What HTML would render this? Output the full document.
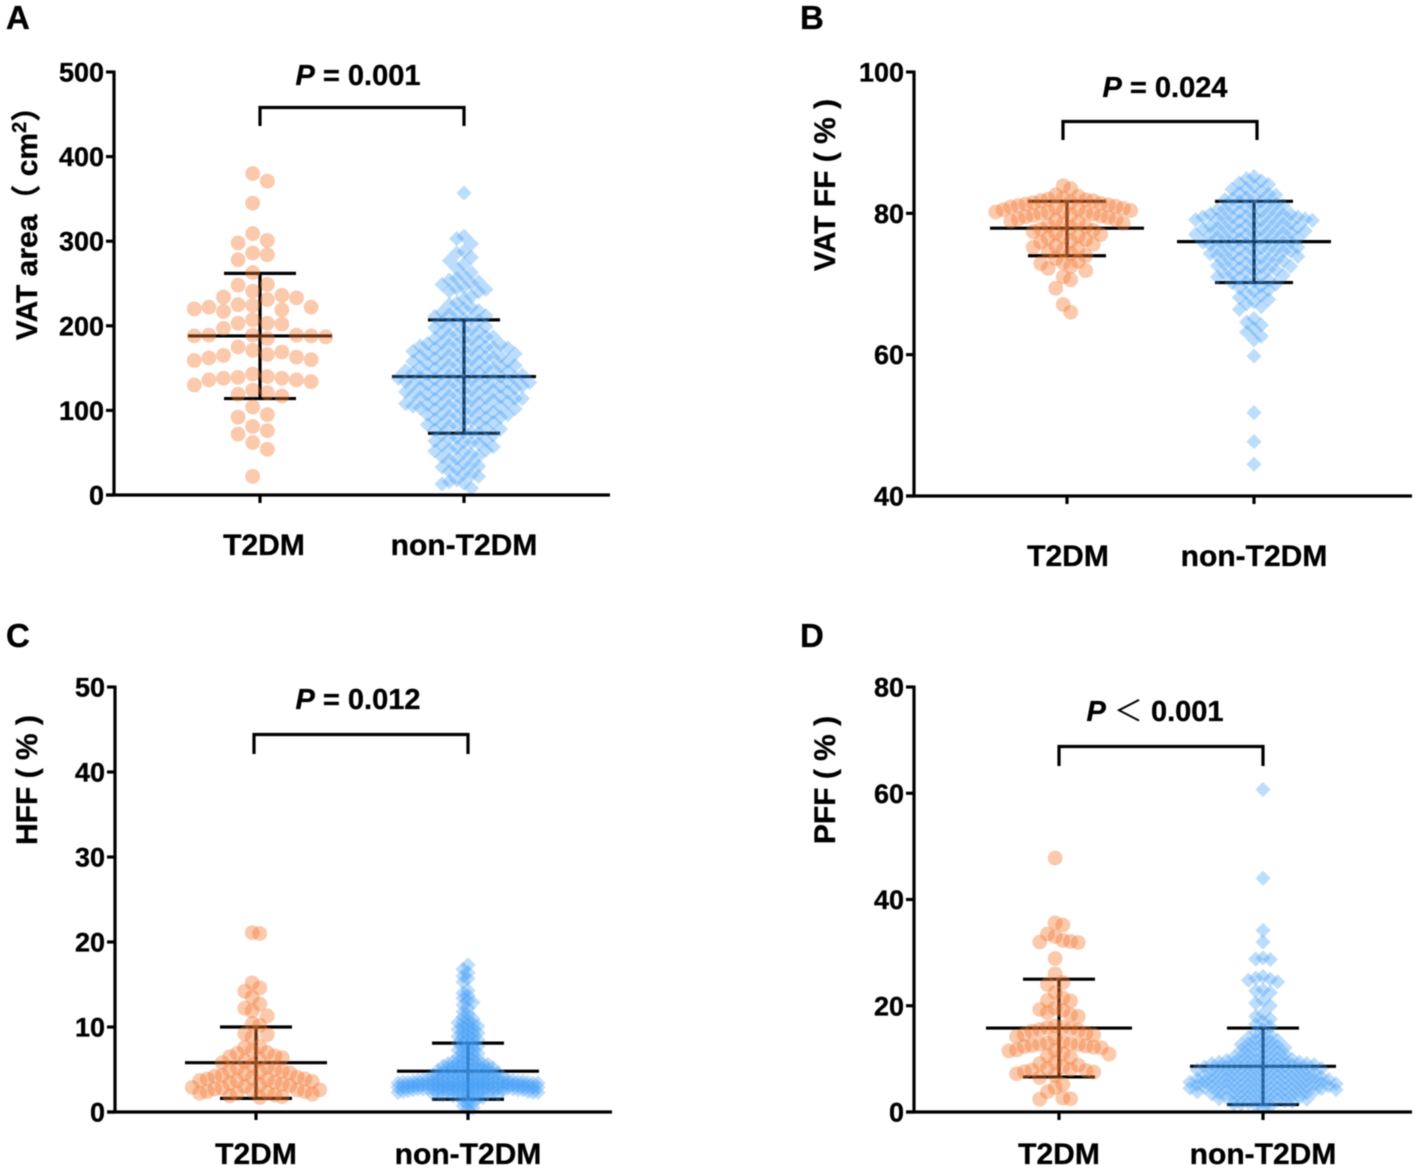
<!DOCTYPE html>
<html lang="en">
<head>
<meta charset="utf-8">
<title>VAT, HFF and PFF by T2DM status</title>
<style>
html,body{margin:0;padding:0;background:#fff;}
svg{display:block;filter:blur(0.4px);}
text{font-family:"Liberation Sans","Noto Sans CJK SC",sans-serif;font-weight:700;fill:#000;stroke:#000;stroke-width:0.35px;}
.tick{font-size:27px;text-anchor:end;}
.cat{font-size:30px;text-anchor:middle;}
.ttl{font-size:30px;text-anchor:middle;}
.p{font-size:29px;text-anchor:middle;}
.let{font-size:33px;}
.br{fill:none;stroke:#000;stroke-width:3.2;}
</style>
</head>
<body>
<svg id="fig" xmlns="http://www.w3.org/2000/svg" width="1417" height="1171" viewBox="0 0 1417 1171">
  <rect width="1417" height="1171" fill="#fff"/>
  <text class="let" x="6" y="29">A</text>
  <text class="let" x="800" y="29">B</text>
  <text class="let" x="6" y="647">C</text>
  <text class="let" x="800" y="647">D</text>

  <text class="ttl" transform="translate(37,216) rotate(-90)">VAT area（ cm<tspan font-size="20" dy="-11">2</tspan><tspan dy="11">）</tspan></text>
  <text class="ttl" transform="translate(835,185) rotate(-90)">VAT FF ( % )</text>
  <text class="ttl" transform="translate(37,780) rotate(-90)">HFF ( % )</text>
  <text class="ttl" transform="translate(835,780) rotate(-90)">PFF ( % )</text>

  <text class="p" x="358" y="85"><tspan font-style="italic">P</tspan> = 0.001</text>
  <text class="p" x="1165" y="97"><tspan font-style="italic">P</tspan> = 0.024</text>
  <text class="p" x="358" y="709"><tspan font-style="italic">P</tspan> = 0.012</text>
  <text class="p" x="1155" y="721"><tspan font-style="italic">P</tspan> <tspan font-weight="400" stroke-width="0">＜</tspan> 0.001</text>

  <path class="br" d="M260 126V107.500H464V126"/>
  <path class="br" d="M1063 140V121.500H1257V140"/>
  <path class="br" d="M254 754V734.500H468V754"/>
  <path class="br" d="M1059 766V746.500H1263V766"/>
</svg>
<script>
const categories = ['T2DM', 'non-T2DM'];

const vatAreaTicks = [0, 100, 200, 300, 400, 500];
const vatFfTicks = [40, 60, 80, 100];
const hffTicks = [0, 10, 20, 30, 40, 50];
const pffTicks = [0, 20, 40, 60, 80];

// summary values: mean, lower bar, upper bar
const vatAreaT2dmStats = [188, 114, 262];
const vatAreaControlStats = [140, 73, 207];
const vatFfT2dmStats = [77.9, 74, 81.7];
const vatFfControlStats = [76, 70.2, 81.7];
const hffT2dmStats = [5.8, 1.6, 10];
const hffControlStats = [4.8, 1.5, 8.1];
const pffT2dmStats = [15.8, 6.6, 25];
const pffControlStats = [8.6, 1.4, 15.8];

const vatAreaT2dm = [380,371,345,309,301,298,286,284,278,263,249,248,241,236,234,233,231,225,224,222,222,220,219,217,207,203,203,202,197,189,189,189,188,188,187,185,175,171,169,166,165,163,162,160,159,143,140,139,138,138,136,136,134,130,124,121,119,117,104,95,92,81,76,72,62,54,22];

const vatAreaControl = [357,306,303,297,288,286,281,277,273,268,263,259,256,254,252,250,249,246,244,243,241,240,235,232,227,225,222,220,218,216,215,213,212,211,
209,207,206,204,203,201,
199,198,196,195,193,192,190,
189,187,187,185,184,183,181,180,
179,178,178,177,176,175,174,174,173,172,171,170,
169,168,167,167,166,165,164,164,163,162,161,160,
159,158,158,157,156,155,154,153,153,152,151,151,
149,149,148,147,147,146,145,144,144,143,142,142,141,140,
139,139,138,138,137,136,136,135,134,134,133,133,132,131,131,130,
129,129,128,127,127,126,125,124,124,123,122,122,121,120,
119,118,118,117,116,115,115,114,114,113,112,112,111,110,
109,108,108,107,106,105,105,104,103,103,102,101,100,
99,98,97,96,95,95,94,93,92,91,
89,88,87,86,85,84,83,82,81,
79,78,77,75,74,73,72,71,
68,67,65,64,63,62,61,
59,57,56,54,53,52,51,
48,46,45,43,41,
38,36,34,33,31,
28,26,24,22,
18,16,14,13,8];

const vatFfT2dm = [83.9,83.5,82.6,82.4,82.1,82,81.9,81.8,81.8,81.6,81.5,81.4,81.3,81.2,81.1,81,80.9,80.8,80.7,80.6,80.5,80.4,80.3,80.2,80.2,80.1,80,79.9,79.8,79.7,79.6,79.5,79.4,79.2,79.1,79,78.9,78.7,78.6,78.5,78.3,78.1,78,77.8,77.6,77.4,77.2,77,76.8,76.7,76.5,76.3,76.1,75.9,75.6,75.4,75.2,75,74.8,74.6,74.3,74,73.6,73.2,73,72.9,72.5,72.2,71.9,71,70.6,69.4,67.1,66];

const vatFfControl = [85.2,84.9,
84.6,84.3,84.1,
83.8,83.5,83.4,83.1,
82.9,82.7,82.6,82.3,82.2,82,
81.9,81.7,81.6,81.4,81.3,81.1,81,
80.9,80.7,80.6,80.5,80.3,80.2,80.1,80,
79.9,79.9,79.8,79.7,79.6,79.5,79.5,79.4,79.3,79.2,79.2,79.1,79,79,
78.9,78.8,78.7,78.6,78.5,78.4,78.3,78.2,78.1,78,78,
77.9,77.8,77.7,77.6,77.5,77.5,77.4,77.3,77.2,77.1,77,77,
76.9,76.8,76.7,76.6,76.5,76.4,76.3,76.2,76.1,76,
75.9,75.9,75.8,75.7,75.6,75.5,75.4,75.3,75.2,75.1,75,
74.9,74.8,74.7,74.6,74.5,74.4,74.3,74.2,74.1,74,
73.9,73.7,73.6,73.5,73.4,73.3,73.2,73,
72.9,72.8,72.6,72.5,72.4,72.2,72.1,72,
71.8,71.7,71.5,71.4,71.2,71.1,71,
70.8,70.6,70.4,70.3,70.2,70,
69.7,69.5,69.2,69,
68.7,68.4,68.1,
67.8,67.5,67.2,
66.8,66.4,65.1,64.6,64.2,63.7,63.2,62.6,62.1,59.8,51.8,47.7,44.5];

const hffT2dm = [21.1,21,15.2,14.6,14.2,13.5,12.7,12.2,11.9,11.3,10.4,10.2,9.2,9.1,8.8,7.7,7.6,7.2,7,6.9,6.6,6.5,6.4,6.2,6,5.8,5.5,5.3,5.2,5,4.9,4.8,4.7,4.6,4.5,4.3,4.2,4.1,4,3.9,3.9,3.8,3.7,3.7,3.6,3.5,3.4,3.3,3.2,3.1,3,2.9,2.8,2.7,2.6,2.6,2.5,2.4,2.4,2.3,2.2,2.2,2.1,2,1.9,1.8,1.7];

const hffControl = [17.3,16.8,16.4,16,15.7,15.3,14.3,14,13.7,13.4,13.1,12.9,12.6,12.2,11.8,11.5,11.2,11,10.8,10.6,10.5,10.4,10.2,10.1,10,9.8,9.7,9.6,9.4,9.3,9.2,9,8.9,8.8,8.6,8.5,8.4,8.2,8.1,8,7.8,7.7,7.6,7.4,7.3,7.2,7,6.9,6.8,6.6,6.5,6.4,6.2,6.1,
6,5.9,5.9,5.8,5.7,5.7,5.6,5.6,5.5,5.4,5.4,5.3,5.3,5.2,5.2,5.1,5.1,5,5,4.9,4.9,4.8,4.8,4.7,4.7,4.6,4.6,4.6,4.5,4.5,4.4,4.4,4.3,4.3,4.3,4.2,4.2,4.1,4.1,4.1,4,4,
3.9,3.9,3.9,3.9,3.8,3.8,3.8,3.8,3.7,3.7,3.7,3.7,3.7,3.6,3.6,3.6,3.6,3.6,3.5,3.5,3.5,3.5,3.5,3.5,3.4,3.4,3.4,3.4,3.4,3.4,3.3,3.3,3.3,3.3,3.3,3.3,3.2,3.2,3.2,3.2,3.2,3.2,3.1,3.1,3.1,3.1,3.1,3.1,3,3,3,3,3,3,3,2.9,2.9,2.9,2.9,2.9,2.9,2.8,2.8,2.8,2.8,2.8,2.8,2.7,2.7,2.7,2.7,2.7,2.6,2.6,2.6,2.6,2.6,2.5,2.5,2.5,2.5,2.5,2.4,2.4,2.4,2.4,2.3,2.3,2.3,2.3,2.2,2.2,2.2,2.1,2.1,2.1,2,2,1.9,1.9,1.8,1.7,1.6,1.5,1.3,1.1,0.9,0.7,0.5,0.3];

const pffT2dm = [47.8,35.6,35.2,33.5,33,32.3,32.1,32,31.9,28.9,26,24.4,24,22.5,21.5,21,20.9,19.5,19.3,19.1,18.7,18.3,18,16.2,16,15.9,15.7,15.5,15.4,15.2,14.8,14.6,14.5,14.2,13.9,13.3,13,12.9,12.8,12.7,12.5,12.4,12.3,12.2,12.1,11.7,11.6,11.5,11,10.9,10.6,10.3,9.3,9.1,8.8,8.5,8.2,8,7.9,7.8,7.6,7.5,7.2,6.9,6.5,5.2,4.6,3.8,2.6,2.5,2.4];

const pffControl = [60.7,44,34.2,32,29,28.8,28.7,25.5,25.2,25,24.8,24.5,23,22.8,22.5,21,20.5,20,18.5,18,17.5,17,16.5,16,15.5,15,
14.5,14.2,14,13.7,
13.5,13.3,13,12.8,
12.7,12.6,12.4,12.2,12.1,
11.9,11.7,11.6,11.3,11.2,11,
10.9,10.7,10.6,10.4,10.3,10.1,10,
9.9,9.9,9.8,9.7,9.6,9.5,9.4,9.4,9.3,9.2,9.1,9.1,9,
8.9,8.9,8.8,8.8,8.7,8.6,8.5,8.5,8.4,8.3,8.3,8.2,8.2,8.1,8,8,
7.9,7.9,7.8,7.7,7.6,7.6,7.5,7.4,7.4,7.3,7.2,7.1,7.1,7,
6.9,6.9,6.8,6.8,6.7,6.6,6.6,6.5,6.5,6.4,6.3,6.3,6.2,6.2,6.1,6.1,6,
5.9,5.9,5.8,5.8,5.7,5.7,5.6,5.6,5.5,5.5,5.4,5.4,5.3,5.3,5.2,5.2,5.1,5.1,5,
4.9,4.9,4.8,4.8,4.7,4.7,4.6,4.6,4.5,4.5,4.4,4.4,4.3,4.3,4.2,4.2,4.1,4,
3.9,3.9,3.8,3.8,3.7,3.6,3.6,3.5,3.4,3.4,3.3,3.2,3.1,3,
2.9,2.8,2.8,2.7,2.6,2.5,2.4,2.4,2.3,2.2,2.1,2,
1.9,1.8,1.6,1.5,1.3,1.1,0.7];

const svgNS = 'http://www.w3.org/2000/svg';
const fig = document.getElementById('fig');

const panels = [
  { id:'a', axisX:114, top:72, bottom:495, right:610, lo:0, hi:500, ticks:vatAreaTicks, catLabelX:[264,464], catLabelY:555,
    groups:[
      { x:260, values:vatAreaT2dm, stats:vatAreaT2dmStats, meanW:72, capW:36, shape:'circle', step:14.6, dy:14, even:true },
      { x:464, values:vatAreaControl, stats:vatAreaControlStats, meanW:72, capW:36, shape:'diamond', step:7.3, dy:10, even:false }
    ]},
  { id:'b', axisX:914, top:72, bottom:496, right:1412, lo:40, hi:100, ticks:vatFfTicks, catLabelX:[1068,1254], catLabelY:566,
    groups:[
      { x:1067, values:vatFfT2dm, stats:vatFfT2dmStats, meanW:77, capW:39, shape:'circle', step:7.5, dy:12.5, even:true },
      { x:1254, values:vatFfControl, stats:vatFfControlStats, meanW:77, capW:39, shape:'diamond', step:7.3, dy:9, even:false }
    ]},
  { id:'c', axisX:115, top:687, bottom:1112, right:612, lo:0, hi:50, ticks:hffTicks, catLabelX:[256,468], catLabelY:1164,
    groups:[
      { x:256, values:hffT2dm, stats:hffT2dmStats, meanW:71, capW:36, shape:'circle', step:7.5, dy:12, even:true },
      { x:468, values:hffControl, stats:hffControlStats, meanW:71, capW:36, shape:'diamond', step:5, dy:5, even:false }
    ]},
  { id:'d', axisX:914, top:687, bottom:1112, right:1412, lo:0, hi:80, ticks:pffTicks, catLabelX:[1059,1263], catLabelY:1164,
    groups:[
      { x:1059, values:pffT2dm, stats:pffT2dmStats, meanW:73, capW:36, shape:'circle', step:7.7, dy:12, even:true },
      { x:1263, values:pffControl, stats:pffControlStats, meanW:73, capW:36, shape:'diamond', step:7.3, dy:5.5, even:false }
    ]}
];

function scaleFor(p) {
  return function (v) {
    return p.bottom - (v - p.lo) / (p.hi - p.lo) * (p.bottom - p.top);
  };
}

function make(tag, attrs) {
  const el = document.createElementNS(svgNS, tag);
  for (const k in attrs) el.setAttribute(k, attrs[k]);
  return el;
}

function slotOrder(even) {
  const order = [];
  if (even) {
    for (let i = 0; i < 20; i++) { order.push(-(i + 0.5)); order.push(i + 0.5); }
  } else {
    order.push(0);
    for (let i = 1; i < 20; i++) { order.push(-i); order.push(i); }
  }
  return order;
}

// beeswarm: each value takes the nearest free column to the centre
function swarm(values, y, g) {
  const order = slotOrder(g.even).filter(function (s) { return Math.abs(s * g.step) <= 73; });
  const cols = new Map();
  const out = [];
  const sorted = values.slice().sort(function (a, b) { return b - a; });
  sorted.forEach(function (v) {
    const py = y(v);
    let chosen = null, bestGap = -1, bestSlot = order[0];
    for (const s of order) {
      const used = cols.get(s) || [];
      let gap = Infinity;
      for (const u of used) gap = Math.min(gap, Math.abs(u - py));
      if (gap >= g.dy) { chosen = s; break; }
      if (gap > bestGap) { bestGap = gap; bestSlot = s; }
    }
    if (chosen === null) chosen = bestSlot;
    if (!cols.has(chosen)) cols.set(chosen, []);
    cols.get(chosen).push(py);
    out.push({ v: v, px: g.x + chosen * g.step, py: py });
  });
  return out;
}

function line(x1, y1, x2, y2, w) {
  return make('line', { x1: x1, y1: y1, x2: x2, y2: y2, stroke: '#000', 'stroke-width': w });
}

panels.forEach(function (p) {
  const y = scaleFor(p);

  // error bars are painted first: the translucent symbols tint them
  p.groups.forEach(function (g, gi) {
    const cat = categories[gi].toLowerCase();
    const mean = line(g.x - g.meanW, y(g.stats[0]), g.x + g.meanW, y(g.stats[0]), 3.2);
    
    
    fig.appendChild(mean);
    const stem = line(g.x, y(g.stats[1]), g.x, y(g.stats[2]), 3.2);
    
    
    fig.appendChild(stem);
    const capLow = line(g.x - g.capW, y(g.stats[1]), g.x + g.capW, y(g.stats[1]), 3.2);
    
    
    fig.appendChild(capLow);
    const capHigh = line(g.x - g.capW, y(g.stats[2]), g.x + g.capW, y(g.stats[2]), 3.2);
    
    
    fig.appendChild(capHigh);
  });

  // data points
  p.groups.forEach(function (g, gi) {
    const cat = categories[gi].toLowerCase();
    swarm(g.values, y, g).forEach(function (pt) {
      let mark;
      if (g.shape === 'circle') {
        mark = make('circle', { cx: pt.px, cy: pt.py, r: 7.4, fill: '#f4782f', 'fill-opacity': 0.4 });
      } else {
        const h = 7.6;
        const pts = [[pt.px, pt.py - h], [pt.px + h, pt.py], [pt.px, pt.py + h], [pt.px - h, pt.py]];
        mark = make('polygon', { points: pts.map(function (c) { return c.join(','); }).join(' '), fill: '#3d9af5', 'fill-opacity': 0.34 });
      }
      
      
      fig.appendChild(mark);
    });
  });

  // axes
  const yAxis = line(p.axisX, p.top - 1.5, p.axisX, p.bottom + 1.5, 3.2);
  
  
  fig.appendChild(yAxis);
  const xAxis = line(p.axisX - 8, p.bottom, p.right, p.bottom, 3.2);
  
  
  fig.appendChild(xAxis);

  p.ticks.forEach(function (t) {
    const tick = line(p.axisX - 8, y(t), p.axisX, y(t), 3.2);
    
    
    fig.appendChild(tick);
    const label = make('text', { class: 'tick', x: p.axisX - 10, y: y(t) + 9.5 });
    label.textContent = t;
    
    
    fig.appendChild(label);
  });

  p.groups.forEach(function (g, gi) {
    const tick = line(g.x, p.bottom, g.x, p.bottom + 8, 3.2);
    
    
    fig.appendChild(tick);
    const label = make('text', { class: 'cat', x: p.catLabelX[gi], y: p.catLabelY });
    label.textContent = categories[gi];
    
    
    fig.appendChild(label);
  });
});
</script>
</body>
</html>
